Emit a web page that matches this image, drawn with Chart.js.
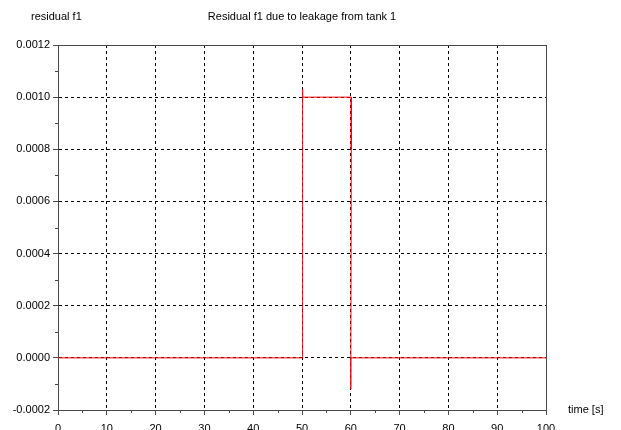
<!DOCTYPE html>
<html>
<head>
<meta charset="utf-8">
<script src="https://cdn.jsdelivr.net/npm/chart.js@4/dist/chart.umd.min.js"></script>
<style>
  html, body { margin: 0; padding: 0; background: #ffffff; }
  #wrap { position: relative; width: 621px; height: 430px; }
</style>
</head>
<body>
<div id="wrap"><canvas id="c" width="621" height="430"></canvas></div>
<script>
// ---- data ----
const chartTitle = "Residual f1 due to leakage from tank 1";
const yAxisLabel = "residual f1";
const xAxisLabel = "time [s]";

const timeValues     = [0, 50, 50,      50.2,    50.2,  60.1,  60.1,   60,       60, 100];
const residualValues = [0, 0,  0.00075, 0.00103, 0.001, 0.001, 0.0008, -0.00012, 0,  0];

const xMin = 0, xMax = 100, xStep = 10;
const yMin = -0.0002, yMax = 0.0012, yStep = 0.0002;

// ---- chart ----
const FONT = { family: "'Liberation Sans', Arial, sans-serif", size: 11 };
const AXIS_COLOR = '#4a4a4a';

const points = timeValues.map((t, i) => ({ x: t, y: residualValues[i] }));

const framePlugin = {
  id: 'frame',
  afterDatasetsDraw(chart) {
    const { ctx, chartArea: a, scales } = chart;
    ctx.save();
    ctx.strokeStyle = AXIS_COLOR;
    ctx.lineWidth = 1;
    ctx.setLineDash([]);
    // top and right frame lines
    ctx.beginPath();
    ctx.moveTo(Math.round(a.left) + 0.5, Math.round(a.top) + 0.5);
    ctx.lineTo(Math.round(a.right) + 0.5, Math.round(a.top) + 0.5);
    ctx.lineTo(Math.round(a.right) + 0.5, Math.round(a.bottom) + 0.5);
    ctx.stroke();
    // minor ticks (midpoints between major ticks)
    const xs = scales.x, ys = scales.y;
    ctx.beginPath();
    for (let i = 0; i < xs.ticks.length - 1; i++) {
      const v = (xs.ticks[i].value + xs.ticks[i + 1].value) / 2;
      const px = Math.round(xs.getPixelForValue(v)) + 0.5;
      ctx.moveTo(px, a.bottom);
      ctx.lineTo(px, a.bottom + 3);
    }
    for (let i = 0; i < ys.ticks.length - 1; i++) {
      const v = (ys.ticks[i].value + ys.ticks[i + 1].value) / 2;
      const py = Math.round(ys.getPixelForValue(v)) + 0.5;
      ctx.moveTo(a.left, py);
      ctx.lineTo(a.left - 3, py);
    }
    ctx.stroke();
    // texts
    ctx.fillStyle = '#000';
    ctx.font = FONT.size + 'px ' + FONT.family;
    ctx.textBaseline = 'middle';
    ctx.textAlign = 'left';
    ctx.fillText(yAxisLabel, 31, 17);
    ctx.textAlign = 'center';
    ctx.fillText(chartTitle, (a.left + a.right) / 2, 17);
    ctx.textAlign = 'left';
    ctx.fillText(xAxisLabel, 568, a.bottom);
    ctx.restore();
  }
};

new Chart(document.getElementById('c'), {
  type: 'line',
  data: {
    datasets: [{
      data: points,
      borderColor: '#ff0000',
      borderWidth: 1,
      pointRadius: 0,
      tension: 0,
      fill: false
    }]
  },
  options: {
    responsive: false,
    animation: false,
    events: [],
    layout: { padding: { top: 45, right: 75, left: 0, bottom: 0 } },
    plugins: { legend: { display: false }, title: { display: false }, tooltip: { enabled: false } },
    scales: {
      x: {
        type: 'linear',
        min: xMin, max: xMax,
        ticks: { stepSize: xStep, color: '#000', font: FONT, padding: 7, maxRotation: 0, autoSkip: false },
        grid: { color: '#000', lineWidth: 1, tickLength: 5, tickColor: AXIS_COLOR, tickBorderDash: [] },
        border: { display: true, color: AXIS_COLOR, width: 1, dash: [3, 3] },
        afterFit(scale) { scale.height = 20; }
      },
      y: {
        type: 'linear',
        min: yMin, max: yMax,
        ticks: {
          stepSize: yStep, color: '#000', font: FONT, padding: 3, autoSkip: false,
          callback: (v) => Number(v).toFixed(4)
        },
        grid: { color: '#000', lineWidth: 1, tickLength: 5, tickColor: AXIS_COLOR, tickBorderDash: [] },
        border: { display: true, color: AXIS_COLOR, width: 1, dash: [3, 3] },
        afterFit(scale) { scale.width = 58; }
      }
    }
  },
  plugins: [framePlugin]
});
</script>
</body>
</html>
